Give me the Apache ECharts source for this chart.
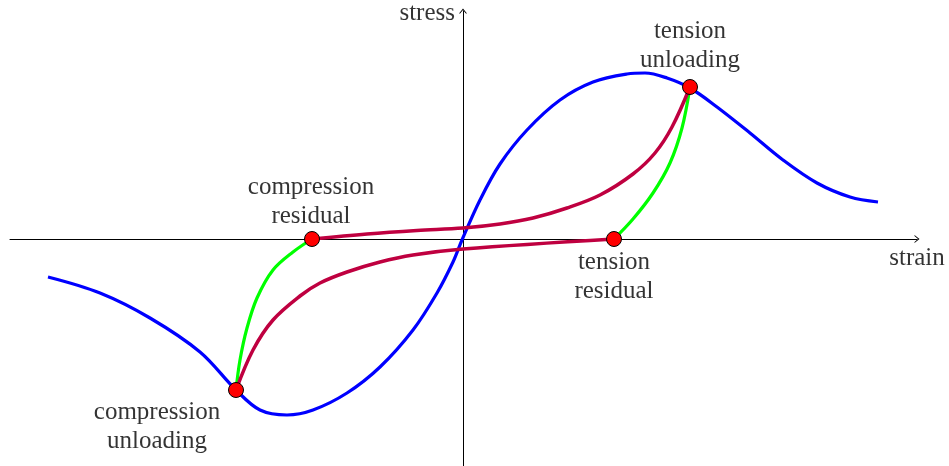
<!DOCTYPE html>
<html>
<head>
    <meta charset="utf-8" />
    <title>stress strain</title>
    <script src="https://cdn.jsdelivr.net/npm/echarts@6/dist/echarts.min.js"></script>
    <style>
        html, body { margin: 0; padding: 0; background: #fff; }
        #main { width: 949px; height: 466px; }
    </style>
</head>
<body>
    <div id="main"></div>
    <script type="text/javascript">
        // origin of the sketch sits at the axes crossing, x to the right, y up
        var bluePts = [
            [-415, -38], [-363, -54], [-313, -79], [-263, -113], [-227, -151],
            [-203, -171], [-176, -176], [-150, -171], [-116, -154], [-83, -128],
            [-50, -91], [-26, -54], [-10, -23], [-1, -1], [17, 39], [37, 75],
            [64, 109], [97, 139], [130, 157], [164, 165], [182, 166], [204, 161],
            [227, 151], [254, 132], [287, 106], [320, 79], [354, 56], [387, 42], [415, 37]
        ];
        var greenComp = [[-227, -151], [-223, -121], [-216, -89], [-206, -59], [-190, -31], [-170, -13], [-151, 0]];
        var greenTens = [[151, 0], [170, 20], [190, 46], [207, 76], [219, 111], [227, 152]];
        var purpleUpper = [
            [-151, 0], [-96, 5], [-46, 8.5], [0, 11], [37, 15], [70, 21], [104, 31],
            [137, 44], [170, 65], [192, 86], [209, 112], [227, 152]
        ];
        var purpleLower = [
            [-227, -151], [-210, -111], [-190, -81], [-163, -57], [-143, -44], [-116, -33],
            [-83, -23], [-50, -16], [0, -10], [151, 0]
        ];
        var dotPts = [[-227, -151], [-151, 0], [151, 0], [227, 152]];
        var labelNames = ['stress', 'strain', 'compression\nresidual', 'tension\nresidual', 'tension\nunloading', 'compression\nunloading'];
        var labelPts = [[-8, 226], [454, -19], [-152, 37], [151, -38], [227, 193], [-306, -188]];
        var labelAlign = ['right', 'center', 'center', 'center', 'center', 'center'];

        var arrowPath = 'path://M0,5 L4,0 L8,5 L6.9,5 L4,1.5 L1.1,5 Z';
        var font = '"Liberation Serif", "DejaVu Serif", serif';

        function curve(pts, color, w) {
            return {
                type: 'line',
                data: pts,
                smooth: 0.35,
                showSymbol: false,
                symbol: 'none',
                lineStyle: { color: color, width: w },
                silent: true
            };
        }

        var labelData = [];
        for (var i = 0; i < labelNames.length; i++) {
            labelData.push({
                name: labelNames[i],
                value: labelPts[i],
                label: { align: labelAlign[i] }
            });
        }

        var myChart = echarts.init(document.getElementById('main'));
        var option = {
            animation: false,
            backgroundColor: '#fff',
            grid: { left: 10, right: 32, top: 11, bottom: 0 },
            xAxis: {
                type: 'value',
                min: -453,
                max: 454,
                splitLine: { show: false },
                axisTick: { show: false },
                axisLabel: { show: false },
                axisLine: {
                    onZero: true,
                    symbol: ['none', arrowPath],
                    symbolSize: [8, 5],
                    lineStyle: { color: '#000', width: 1 }
                }
            },
            yAxis: {
                type: 'value',
                min: -227,
                max: 228,
                splitLine: { show: false },
                axisTick: { show: false },
                axisLabel: { show: false },
                axisLine: {
                    onZero: true,
                    symbol: ['none', arrowPath],
                    symbolSize: [8, 5],
                    lineStyle: { color: '#000', width: 1 }
                }
            },
            series: [
                curve(bluePts, '#0000ff', 3.2),
                curve(greenComp, '#00ff00', 3.2),
                curve(greenTens, '#00ff00', 3.2),
                curve(purpleUpper, '#bf0040', 3.5),
                curve(purpleLower, '#bf0040', 3.5),
                {
                    type: 'scatter',
                    data: dotPts,
                    symbolSize: 15,
                    z: 5,
                    itemStyle: { color: '#ff0000', borderColor: '#000', borderWidth: 1, opacity: 1 }
                },
                {
                    type: 'scatter',
                    data: labelData,
                    symbolSize: 1,
                    clip: false,
                    itemStyle: { color: 'rgba(255,255,255,0)' },
                    label: {
                        show: true,
                        position: 'inside',
                        formatter: '{b}',
                        fontFamily: font,
                        fontSize: 25,
                        lineHeight: 29,
                        color: '#000',
                        verticalAlign: 'middle'
                    }
                }
            ]
        };
        myChart.setOption(option);
    </script>
</body>
</html>
